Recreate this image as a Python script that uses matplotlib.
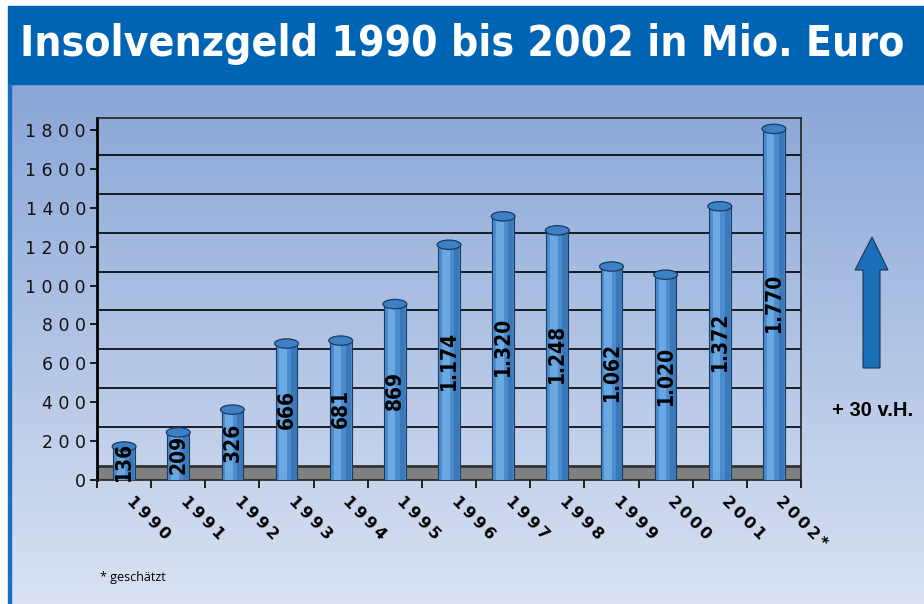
import numpy as np
import matplotlib
matplotlib.use("Agg")
import matplotlib.pyplot as plt
import matplotlib.font_manager as fm
from matplotlib.font_manager import FontProperties
from matplotlib.patches import Rectangle, Ellipse, Polygon
from matplotlib.transforms import blended_transform_factory, ScaledTranslation

# ---- data ----
years = ["1990", "1991", "1992", "1993", "1994", "1995", "1996",
         "1997", "1998", "1999", "2000", "2001", "2002*"]
values = [136, 209, 326, 666, 681, 869, 1174, 1320, 1248, 1062, 1020, 1372, 1770]
yticks = [0, 200, 400, 600, 800, 1000, 1200, 1400, 1600, 1800]
title = "Insolvenzgeld 1990 bis 2002 in Mio. Euro"
note = "* geschätzt"
change_label = "+ 30 v.H."

W, H = 924, 604
DEPTH = 72      # 3D wall depth offset (y units)
HALF = 36       # bar sits in the middle of the depth


def find_condensed_bold():
    best = None
    for f in fm.fontManager.ttflist:
        nm = f.name.lower()
        st = str(f.stretch).lower()
        is_cond = ("narrow" in nm or "condensed" in nm or "condensed" in st
                   or "narrow" in f.fname.lower() or "condensed" in f.fname.lower())
        if not is_cond:
            continue
        w = f.weight if isinstance(f.weight, int) else (700 if "bold" in str(f.weight) else 400)
        score = -abs(w - 700)
        if "italic" in f.style or "oblique" in f.style:
            continue
        if best is None or score > best[0]:
            best = (score, f.fname)
    return best[1] if best else None


cond_path = find_condensed_bold()
if cond_path:
    cond_fp = FontProperties(fname=cond_path)
    label_size = 15
else:
    cond_fp = FontProperties(family=["Roboto", "DejaVu Sans"], weight="bold")
    label_size = 13

fig = plt.figure(figsize=(W / 100, H / 100), dpi=100)

# ---- background ----
bg = fig.add_axes([0, 0, 1, 1])
bg.set_xlim(0, W)
bg.set_ylim(H, 0)
bg.axis("off")
top_c = np.array([0x89, 0xA6, 0xD7]) / 255
bot_c = np.array([0xDA, 0xE2, 0xF3]) / 255
t = np.linspace(0, 1, 256)[:, None]
grad = (top_c[None, :] * (1 - t) + bot_c[None, :] * t)[:, None, :]
bg.imshow(grad, extent=(0, W, H, 84), aspect="auto", zorder=0)
bg.add_patch(Rectangle((0, 0), W, 6, color="white", zorder=1))
bg.add_patch(Rectangle((0, 0), 8, H, color="white", zorder=1))
bg.add_patch(Rectangle((8, 6), W - 8, 78, color="#0064B4", zorder=2))
bg.add_patch(Rectangle((8, 84), 3, H - 84, color="#1670BE", zorder=2))
ttl = bg.text(462, 44, title, color="white", fontsize=37,
              fontproperties=cond_fp, ha="center", va="center", zorder=3)
ttl.set_fontsize(37)
# fit title width to ~885 px
r = fig.canvas.get_renderer()
wpx = ttl.get_window_extent(renderer=r).width
if wpx > 0:
    ttl.set_fontsize(min(44, 37 * 885 / wpx))

# arrow
arrow = Polygon([[863, 368], [880, 368], [880, 270], [888, 270], [872, 237],
                 [855, 270], [863, 270]], closed=True,
                facecolor="#1A6FB9", edgecolor="#1d3550", lw=0.8, zorder=3)
bg.add_patch(arrow)
bg.text(873, 410, change_label, fontsize=14.5, fontweight="bold", color="black",
        family=["Liberation Sans", "DejaVu Sans"], ha="center", va="center")
bg.text(100, 577, note, fontsize=9, color="black",
        family=["Open Sans", "DejaVu Sans"], ha="left", va="center")

# ---- main axes ----
ax = fig.add_axes([97 / W, 1 - 480 / H, (801 - 97) / W, (480 - 118) / H])
ax.set_facecolor("none")
ax.set_xlim(-0.5, len(years) - 0.5)
ax.set_ylim(0, 1862)

# gridlines on the back wall
for v in yticks[1:-1]:
    ax.axhline(v + DEPTH, color="black", lw=1.2, zorder=1)
# floor
ax.axhspan(0, DEPTH, color="#808080", zorder=1)
ax.axhline(DEPTH, color="#333333", lw=2, zorder=1)

x = np.arange(len(years))
vals = np.array(values)
ax.bar(x, vals + HALF, width=0.4, color="#4A8CCF", edgecolor="#1b3a5e",
       lw=0.8, zorder=3)
ax.bar(x - 0.06, vals + HALF, width=0.14, color="#6BA8E2", lw=0, zorder=3.1)
ax.bar(x + 0.14, vals + HALF, width=0.1, color="#3A78B8", lw=0, zorder=3.1)
for xi, v in zip(x, vals):
    ax.add_patch(Ellipse((xi, v + HALF), 0.44, 48, facecolor="#3D80C6",
                         edgecolor="#1b3a5e", lw=0.9, zorder=4))
    ax.text(xi, (v + HALF) / 2 + 10, f"{v:,}".replace(",", "."), rotation=90,
            ha="center", va="center", fontproperties=cond_fp,
            fontsize=label_size, color="black", zorder=5)

# spines
for s in ["top", "right", "bottom"]:
    ax.spines[s].set_color("#222222")
    ax.spines[s].set_linewidth(1.2)
ax.spines["left"].set_color("black")
ax.spines["left"].set_linewidth(2)

ax.set_yticks(yticks)
ax.set_yticklabels([" ".join(str(v)) for v in yticks], fontsize=12.5,
                   color="#111111", family="DejaVu Sans")
ax.tick_params(axis="y", direction="out", length=5, width=1.2, pad=3)
ax.set_xticks([])
ax.set_xticks(np.arange(-0.5, len(years), 1.0), minor=True)
ax.tick_params(axis="x", which="minor", direction="out", length=6, width=1.2,
               labelbottom=False)

trans = blended_transform_factory(ax.transData, ax.transAxes) + \
    ScaledTranslation(10 / 100, -14 / 100, fig.dpi_scale_trans)
for xi, lab in zip(x, years):
    ax.text(xi, 0, "\u2009".join(lab), transform=trans, rotation=-45,
            rotation_mode="anchor", ha="left", va="top", fontsize=11.5,
            fontweight="bold", family="DejaVu Sans", color="black")

fig.savefig("out.png", dpi=100)
